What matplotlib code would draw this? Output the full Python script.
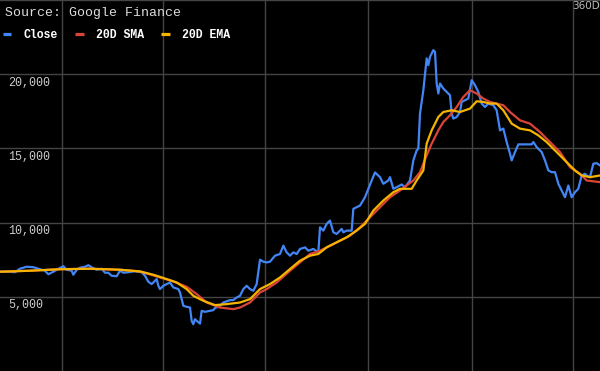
import matplotlib
matplotlib.use("Agg")
import matplotlib.pyplot as plt

# Close price (day index, value)
close_days = [0, 6, 9, 12, 16, 20, 23, 27, 29, 32, 34, 38, 40, 43, 44, 46, 48, 51, 53, 56,
              58, 61, 63, 65, 67, 70, 72, 74, 77, 81, 85, 87, 89, 91, 92, 94, 95, 96, 98, 100,
              102, 104, 107, 108, 110, 112, 114, 115, 116, 117, 118, 120, 121, 123, 126, 128,
              129, 132, 134, 138, 140, 142, 144, 146, 148, 150, 152, 154, 156, 158, 160, 162,
              165, 168, 170, 172, 174, 176, 178, 180, 183, 185, 188, 191, 192, 194, 196, 198,
              200, 202, 205, 206, 208, 211, 212, 214, 216, 219, 221, 223, 225, 228, 230, 233,
              234, 236, 238, 241, 243, 246, 248, 250, 251, 252, 254, 256, 257, 258, 260, 261,
              262, 263, 264, 266, 268, 270, 271, 272, 274, 276, 277, 279, 281, 283, 285, 287,
              289, 291, 293, 296, 298, 300, 302, 304, 306, 307, 309, 311, 314, 319, 320, 322,
              325, 327, 329, 331, 333, 335, 337, 339, 341, 343, 345, 347, 349, 351, 352, 354,
              356, 358, 360]
close_vals = [6690, 6690, 6656, 6892, 7027, 6993, 6892, 6757, 6520, 6690, 6824, 7061, 6824, 6757, 6487, 6824, 6960, 7027, 7129, 6926,
              6824, 6892, 6622, 6622, 6419, 6385, 6757, 6622, 6656, 6723, 6656, 6419, 6014, 5858, 5966, 6196, 5743, 5520, 5743, 5858,
              5966, 5629, 5520, 5291, 4392, 4324, 4277, 3378, 3155, 3493, 3378, 3196, 4054, 3987, 4054, 4101,
              4237, 4392, 4615, 4777, 4777, 4953, 5068, 5520, 5743, 5520, 5406, 5858, 7500, 7365, 7318, 7365,
              7771, 7885, 8446, 7994, 7771, 7994, 7885, 8223, 8331, 8108, 8223, 7994, 9683, 9460, 9913, 10136,
              9345, 9237, 9575, 9345, 9460, 9460, 10926, 11034, 11149, 11710, 12278, 12838, 13380, 13061, 12615, 12838,
              13061, 12278, 12386, 12568, 12386, 12838, 14190, 14865, 14980, 17345, 18920, 21062, 20609, 21170, 21622, 21508,
              19372, 18697, 19372, 19034, 18805, 18582, 17345, 17007, 17116, 17453, 18129, 18244, 18359, 19595, 19257, 18805,
              18021, 17791, 18021, 17906, 17568, 16217, 16332, 15426, 14643, 14190, 14751, 15271, 15271, 15271, 15426, 15088,
              14751, 14190, 13514, 13399, 13399, 12615, 12163, 11710, 12500, 11710, 12048, 12278, 13176, 13291, 13176, 13061,
              13967, 14007, 13852]

# 20 day simple moving average
sma_days = [0, 18, 36, 54, 72, 84, 96, 104, 112, 118, 124, 132, 140, 144, 150, 156, 160, 166,
            174, 180, 186, 192, 198, 204, 210, 216, 222, 228, 234, 240, 244, 248, 252, 256,
            259, 263, 266, 270, 274, 278, 282, 286, 290, 294, 302, 306, 312, 318, 324, 330,
            336, 342, 348, 352, 360]
sma_vals = [6690, 6757, 6858, 6892, 6824, 6710, 6304, 6034, 5676, 5183, 4615, 4277, 4169, 4277, 4615, 5291, 5520, 5966,
            6757, 7318, 7885, 8108, 8446, 8784, 9122, 9683, 10358, 11034, 11710, 12163, 12500, 12838, 13399, 14528,
            15318, 16217, 16778, 17230, 17791, 18467, 18920, 18697, 18359, 18129, 17906, 17453, 16892, 16669, 16101, 15426,
            14751, 13737, 13291, 12838, 12727]

# 20 day exponential moving average
ema_days = [0, 18, 36, 54, 72, 84, 92, 100, 106, 112, 116, 122, 129, 136, 144, 150, 156, 162,
            168, 174, 180, 186, 191, 196, 202, 208, 214, 219, 224, 230, 236, 240, 247, 250,
            254, 256, 259, 263, 266, 271, 276, 282, 286, 290, 294, 298, 302, 307, 312, 318,
            323, 328, 334, 340, 345, 349, 354, 360]
ema_vals = [6690, 6757, 6858, 6892, 6824, 6710, 6487, 6196, 5966, 5520, 5068, 4730, 4439, 4507, 4615, 4845, 5520, 5858,
            6304, 6872, 7433, 7771, 7885, 8331, 8669, 9007, 9460, 9913, 10811, 11487, 12048, 12278, 12278, 12838,
            13514, 15318, 16217, 17116, 17453, 17568, 17453, 17683, 18176, 18129, 18021, 18021, 17568, 16669, 16331, 16217,
            15879, 15426, 14751, 14075, 13514, 13176, 13061, 13176]

grid_days = [37, 98, 159, 220.5, 283, 344]
y_ticks = [5000, 10000, 15000, 20000, 25000]

fig = plt.figure(figsize=(6, 3.71), dpi=100, facecolor='black')
ax = fig.add_axes([0, 0, 1, 1], facecolor='black')

ax.plot(close_days, close_vals, color='#4285F4', lw=1.6, label='Close')
ax.plot(sma_days, sma_vals, color='#DB4437', lw=1.6, label='20D SMA')
ax.plot(ema_days, ema_vals, color='#F4B400', lw=1.6, label='20D EMA')

ax.set_xlim(0, 360)
ax.set_ylim(0, 25000)
for d in grid_days:
    ax.axvline(d, color='#444444', lw=1, zorder=0)
for v in y_ticks:
    ax.axhline(v, color='#444444', lw=1, zorder=0)
    if v < 25000:
        ax.text(5, v - 560, f'{v:,}', color='#cccccc', fontsize=8.4,
                family='Liberation Mono', va='center', ha='left')
for s in ax.spines.values():
    s.set_visible(False)
ax.set_xticks([])
ax.set_yticks([])

fig.text(5 / 600, 1 - 12.7 / 371, 'Source: Google Finance', color='#dddddd',
         fontsize=9.5, family='Liberation Mono', va='center', ha='left')
fig.text(1, 1 - 6 / 371, '360D', color='#bbbbbb', fontsize=7.5, va='center', ha='right')

leg = ax.legend(loc='upper left', bbox_to_anchor=(2.5 / 600, 1 - 29 / 371), ncol=3, frameon=False,
                prop={'family': 'Liberation Mono', 'size': 8.3, 'weight': 'bold'}, labelcolor='#ffffff',
                handlelength=0.75, handletextpad=1.1, columnspacing=1.45,
                borderpad=0, borderaxespad=0)
for h in leg.get_lines():
    h.set_linewidth(2.3)
    h.set_solid_capstyle('butt')

fig.savefig('out.png', dpi=100, facecolor='black')
